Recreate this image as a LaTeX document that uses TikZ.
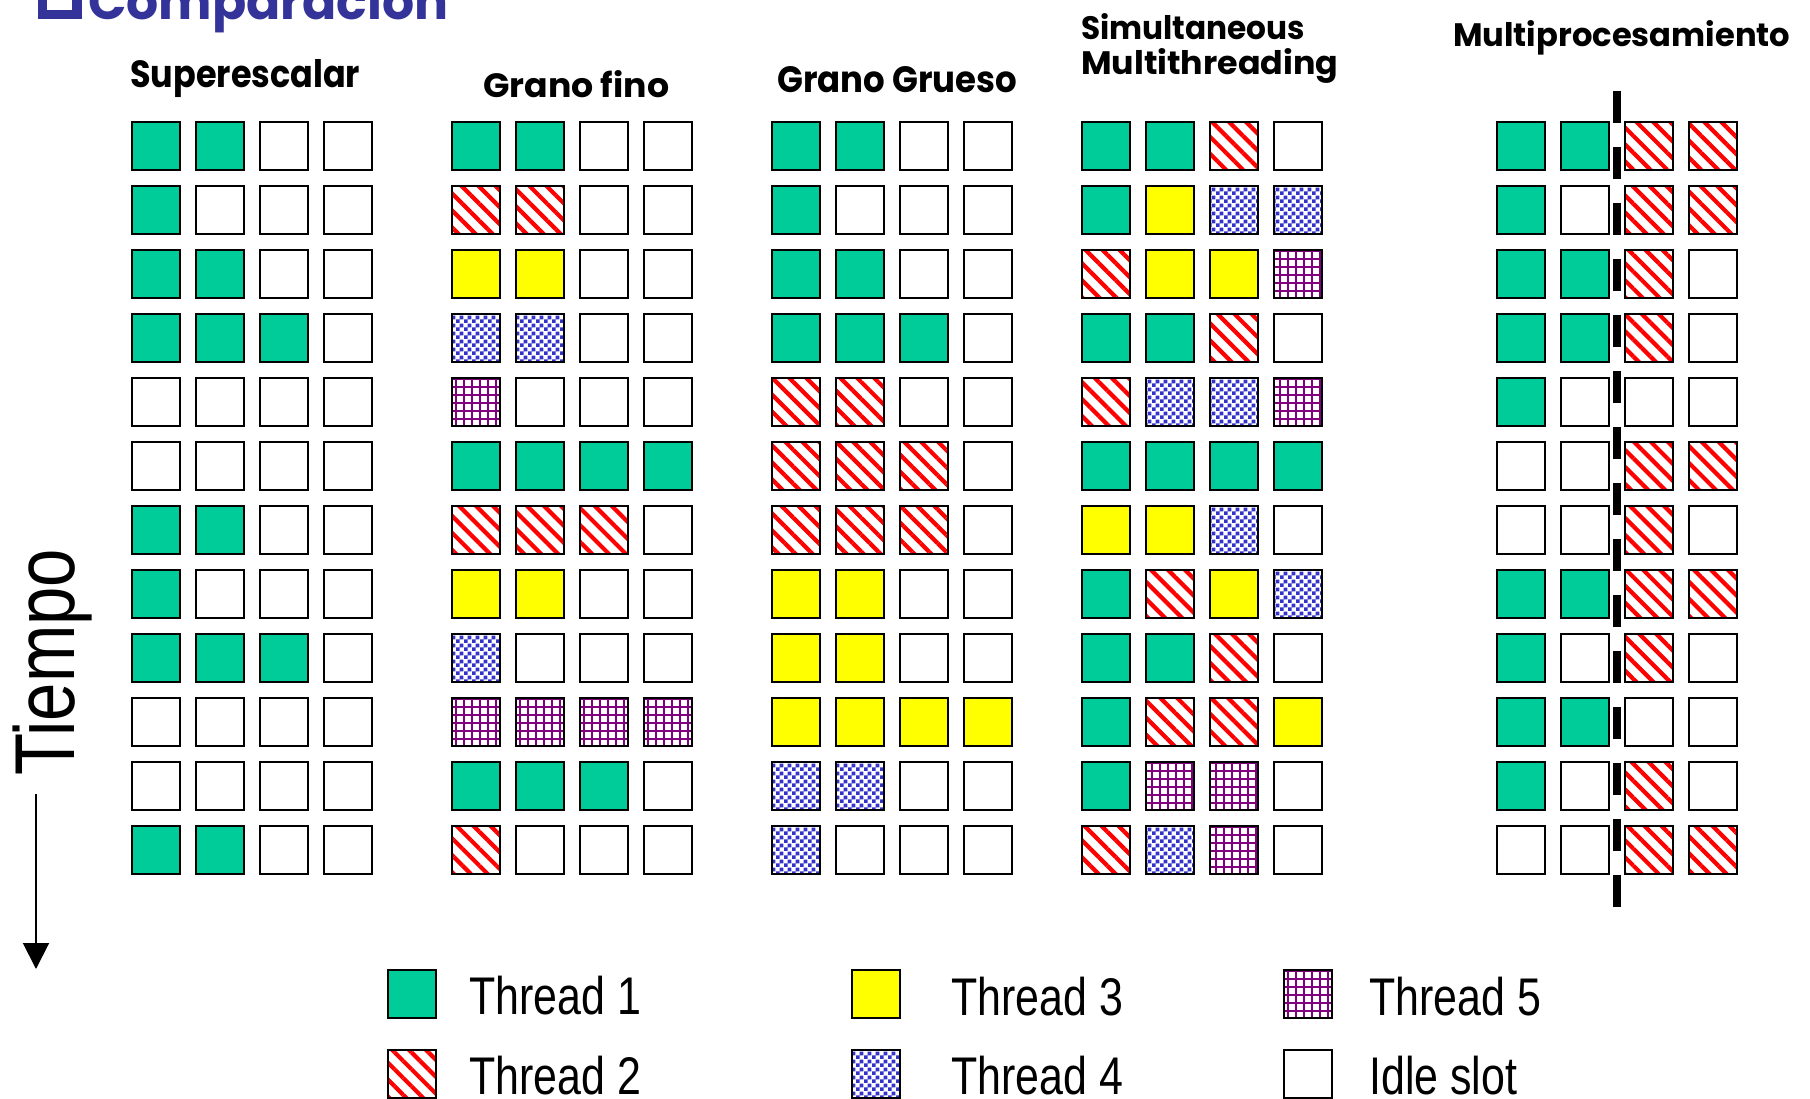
\documentclass[tikz,border=0pt]{standalone}
\usepackage{fontspec}
\usepackage{graphicx}
\usetikzlibrary{patterns,patterns.meta,arrows.meta}
\setmainfont{Liberation Sans}
\newfontfamily\narrowfont[FakeStretch=0.81]{Liberation Sans}
\newfontfamily\headfont{Poppins}
\definecolor{tgreen}{RGB}{0,204,153}
\definecolor{tyellow}{RGB}{255,255,0}
\definecolor{tred}{RGB}{255,0,0}
\definecolor{tblue}{RGB}{51,51,204}
\definecolor{tpurple}{RGB}{128,0,128}
\definecolor{titleblue}{RGB}{51,51,153}
\pgfdeclarepatternformonly{bigcheck}{\pgfpointorigin}{\pgfqpoint{8pt}{8pt}}{\pgfqpoint{8pt}{8pt}}{%
  \pgfpathrectangle{\pgfpointorigin}{\pgfqpoint{4.05pt}{4.05pt}}%
  \pgfpathrectangle{\pgfqpoint{4pt}{4pt}}{\pgfqpoint{4.05pt}{4.05pt}}%
  \pgfusepath{fill}}
\newcommand{\headtxt}[3]{\resizebox{#1}{#2}{\headfont\bfseries #3}}
\newcommand{\drawpanel}[3]{%
  \foreach \ka/\kb/\kc/\kd [count=\r] in {#3} {
    \node[cell\ka] (#1-\r-1) at (#2, 82+64*\r) {};
    \node[cell\kb] (#1-\r-2) at (#2+64, 82+64*\r) {};
    \node[cell\kc] (#1-\r-3) at (#2+128, 82+64*\r) {};
    \node[cell\kd] (#1-\r-4) at (#2+192, 82+64*\r) {};
  }}
\begin{document}
\begin{tikzpicture}[x=1pt,y=-1pt,
  cell/.style={draw=black, line width=2pt, minimum size=48pt, inner sep=0pt, outer sep=0pt},
  cellG/.style={cell, fill=tgreen},
  cellY/.style={cell, fill=tyellow},
  cellW/.style={cell, fill=white},
  cellR/.style={cell, pattern={Lines[angle=-45,distance=12pt,line width=4.2pt]}, pattern color=tred},
  cellB/.style={cell, pattern=bigcheck, pattern color=tblue},
  cellP/.style={cell, pattern={Hatch[angle=0,distance=8pt,line width=2.4pt]}, pattern color=tpurple},
  head/.style={anchor=base west, inner sep=0pt},
  legtext/.style={anchor=base west, inner sep=0pt, font=\narrowfont\fontsize{53}{60}\selectfont}
]
\useasboundingbox (0,0) rectangle (1810,1099);
\clip (0,0) rectangle (1810,1099);
\fill[white] (0,0) rectangle (1810,1099);

% title (cut off at top)
\fill[titleblue] (38,-30) rectangle (82,19);
\fill[white] (47,-30) rectangle (72,10);
\node[head, text=titleblue] (title) at (88,20) {\headtxt{360pt}{!}{Comparación}};

% headings
\node[head] (h1) at (130,88) {\headtxt{230pt}{28pt}{Superescalar}};
\node[head] (h2) at (483,98) {\headtxt{186pt}{27pt}{Grano fino}};
\node[head] (h3) at (777,93) {\headtxt{240pt}{26pt}{Grano Grueso}};
\node[head] (h4a) at (1081,40) {\headtxt{224pt}{26pt}{Simultaneous}};
\node[head] (h4b) at (1081,75) {\headtxt{257pt}{26pt}{Multithreading}};
\node[head] (h5) at (1453,47) {\headtxt{337pt}{26pt}{Multiprocesamiento}};

% panels
\drawpanel{ss}{156}{G/G/W/W, G/W/W/W, G/G/W/W, G/G/G/W, W/W/W/W, W/W/W/W, G/G/W/W, G/W/W/W, G/G/G/W, W/W/W/W, W/W/W/W, G/G/W/W}
\drawpanel{gf}{476}{G/G/W/W, R/R/W/W, Y/Y/W/W, B/B/W/W, P/W/W/W, G/G/G/G, R/R/R/W, Y/Y/W/W, B/W/W/W, P/P/P/P, G/G/G/W, R/W/W/W}
\drawpanel{gg}{796}{G/G/W/W, G/W/W/W, G/G/W/W, G/G/G/W, R/R/W/W, R/R/R/W, R/R/R/W, Y/Y/W/W, Y/Y/W/W, Y/Y/Y/Y, B/B/W/W, B/W/W/W}
\drawpanel{smt}{1106}{G/G/R/W, G/Y/B/B, R/Y/Y/P, G/G/R/W, R/B/B/P, G/G/G/G, Y/Y/B/W, G/R/Y/B, G/G/R/W, G/R/R/Y, G/P/P/W, R/B/P/W}
\drawpanel{mp}{1521}{G/G/R/R, G/W/R/R, G/G/R/W, G/G/R/W, G/W/W/W, W/W/R/R, W/W/R/W, G/G/R/R, G/W/R/W, G/G/W/W, G/W/R/W, W/W/R/R}

% multiprocessor divider
\coordinate (divtop) at (1617,91);
\coordinate (divbot) at (1617,907);
\draw[line width=8pt, dash pattern=on 32pt off 24pt] (divtop) -- (divbot);

% time axis
\node[anchor=base west, inner sep=0pt, rotate=90, font=\narrowfont\fontsize{85}{90}\selectfont] (tiempo) at (74,776) {Tiempo};
\coordinate (arrtop) at (36,794);
\coordinate (arrbot) at (36,969);
\draw[line width=2pt, -{Triangle[length=26pt,width=26pt]}] (arrtop) -- (arrbot);

% legend
\node[cellG] (l1) at (412,993.5) {};
\node[cellR] (l2) at (412,1073.5) {};
\node[cellY] (l3) at (876,993.5) {};
\node[cellB] (l4) at (876,1073.5) {};
\node[cellP] (l5) at (1307.5,993.5) {};
\node[cellW] (l6) at (1307.5,1073.5) {};
\node[legtext] (t1) at (469,1014) {Thread 1};
\node[legtext] (t2) at (469,1094) {Thread 2};
\node[legtext] (t3) at (951,1015) {Thread 3};
\node[legtext] (t4) at (951,1094) {Thread 4};
\node[legtext] (t5) at (1369,1015) {Thread 5};
\node[legtext] (t6) at (1369,1094) {Idle slot};
\end{tikzpicture}
\end{document}
